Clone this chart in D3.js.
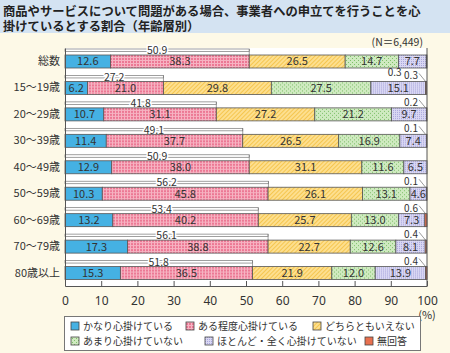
<!DOCTYPE html>
<html>
<head>
<meta charset="utf-8">
<script src="https://cdn.jsdelivr.net/npm/d3@7"></script>
<style>
  body { margin: 0; background: #fdf9e7; }
  svg { display: block; font-family: "Noto Sans CJK JP", "Noto Sans", sans-serif; }
</style>
</head>
<body>
<div id="chart-area"></div>
<script>
const categories = ['総数', '15～19歳', '20～29歳', '30～39歳', '40～49歳', '50～59歳', '60～69歳', '70～79歳', '80歳以上'];
const seriesNames = ['かなり心掛けている', 'ある程度心掛けている', 'どちらともいえない', 'あまり心掛けていない', 'ほとんど・全く心掛けていない', '無回答'];
const s1 = [12.6, 6.2, 10.7, 11.4, 12.9, 10.3, 13.2, 17.3, 15.3];
const s2 = [38.3, 21.0, 31.1, 37.7, 38.0, 45.8, 40.2, 38.8, 36.5];
const s3 = [26.5, 29.8, 27.2, 26.5, 31.1, 26.1, 25.7, 22.7, 21.9];
const s4 = [14.7, 27.5, 21.2, 16.9, 11.6, 13.1, 13.0, 12.6, 12.0];
const s5 = [7.7, 15.1, 9.7, 7.4, 6.5, 4.6, 7.3, 8.1, 13.9];
const s6 = [0.3, 0.3, 0.2, 0.1, 0, 0.1, 0.6, 0.4, 0.4];
const sums = [50.9, 27.2, 41.8, 49.1, 50.9, 56.2, 53.4, 56.1, 51.8];
const xTicks = [0, 10, 20, 30, 40, 50, 60, 70, 80, 90, 100];

const W = 450, H = 353;
const margin = {left: 65, right: 23, top: 48, bottom: 67};
const width = W - margin.left - margin.right;
const height = H - margin.top - margin.bottom;

const svg = d3.select('#chart-area')
  .append('svg')
  .attr('width', W)
  .attr('height', H);

// patterns
const defs = svg.append('defs');

const pPink = defs.append('pattern').attr('id', 'p-pink')
  .attr('patternUnits', 'userSpaceOnUse').attr('width', 3).attr('height', 3);
pPink.append('rect').attr('width', 3).attr('height', 3).attr('fill', '#f6b3c2');
pPink.append('rect').attr('width', 2).attr('height', 2).attr('fill', '#ec7894');

const pYellow = defs.append('pattern').attr('id', 'p-yellow')
  .attr('patternUnits', 'userSpaceOnUse').attr('width', 3).attr('height', 3)
  .attr('patternTransform', 'rotate(45)');
pYellow.append('rect').attr('width', 3).attr('height', 3).attr('fill', '#fddf8f');
pYellow.append('rect').attr('width', 1).attr('height', 3).attr('fill', '#f5c650');

const pGreen = defs.append('pattern').attr('id', 'p-green')
  .attr('patternUnits', 'userSpaceOnUse').attr('width', 4).attr('height', 4);
pGreen.append('rect').attr('width', 4).attr('height', 4).attr('fill', '#cfeac0');
pGreen.append('rect').attr('x', 1).attr('y', 1).attr('width', 1).attr('height', 1).attr('fill', '#7fc06a');
pGreen.append('rect').attr('x', 3).attr('y', 3).attr('width', 1).attr('height', 1).attr('fill', '#7fc06a');

const pLav = defs.append('pattern').attr('id', 'p-lav')
  .attr('patternUnits', 'userSpaceOnUse').attr('width', 2).attr('height', 2);
pLav.append('rect').attr('width', 2).attr('height', 2).attr('fill', '#d9d7f3');
pLav.append('rect').attr('width', 1).attr('height', 1).attr('fill', '#a9a6dc');

const fills = ['#45b1e3', 'url(#p-pink)', 'url(#p-yellow)', 'url(#p-green)', 'url(#p-lav)', '#e8704f'];

// title band
svg.append('rect')
  .attr('width', W).attr('height', 33)
  .attr('fill', '#d4e3f2');

svg.append('text')
  .attr('x', 3).attr('y', 16)
  .attr('font-size', '12.3px')
  .attr('font-weight', 'bold')
  .attr('fill', '#222')
  .text('商品やサービスについて問題がある場合、事業者への申立てを行うことを心');

svg.append('text')
  .attr('x', 3).attr('y', 31)
  .attr('font-size', '12.3px')
  .attr('font-weight', 'bold')
  .attr('fill', '#222')
  .text('掛けているとする割合（年齢層別）');

svg.append('text')
  .attr('x', 423).attr('y', 46)
  .attr('font-size', '10.5px')
  .attr('text-anchor', 'end')
  .attr('fill', '#333')
  .text('(N＝6,449)');

const g = svg.append('g')
  .attr('transform', `translate(${margin.left}, ${margin.top})`);

// scales
const x = d3.scaleLinear()
  .domain([0, 100])
  .range([0, width]);

const y = d3.scaleBand()
  .domain(categories)
  .range([0, height]);

const barH = 13;
const barOff = 7;

g.append('rect')
  .attr('width', width).attr('height', height)
  .attr('fill', '#fff');

// stacked data
const rows = categories.map((c, i) => {
  const vals = [s1[i], s2[i], s3[i], s4[i], s5[i], s6[i]];
  let acc = 0;
  const segs = vals.map((v, k) => {
    const x0 = Math.min(acc, 100);
    acc += v;
    return {cat: c, k: k, v: v, x0: x0, x1: Math.min(acc, 100)};
  });
  return {cat: c, i: i, segs: segs, sum: sums[i]};
});

// bracket for 心掛けている total
rows.forEach(r => {
  const top = y(r.cat) + barOff;
  const gb = g.append('g');
  gb.append('rect')
    .attr('x', 0).attr('y', top - 6)
    .attr('width', x(r.sum)).attr('height', 2.5)
    .attr('fill', '#fff')
    .attr('stroke', '#777')
    .attr('stroke-width', 0.7);
  gb.append('line')
    .attr('x1', x(r.sum)).attr('x2', x(r.sum))
    .attr('y1', top - 6).attr('y2', top)
    .attr('stroke', '#777')
    .attr('stroke-width', 0.7);
  gb.append('text')
    .attr('x', x(r.sum / 2)).attr('y', top - 4.5)
    .attr('dy', '0.35em')
    .attr('font-size', '10.5px')
    .attr('text-anchor', 'middle')
    .attr('fill', '#333')
    .attr('stroke', '#fff')
    .attr('stroke-width', 3)
    .attr('paint-order', 'stroke')
    .text(r.sum.toFixed(1));
});

// bars
const rowG = g.selectAll('.row')
  .data(rows)
  .enter()
  .append('g')
  .attr('class', 'row')
  .attr('transform', d => `translate(0, ${y(d.cat) + barOff})`);

rowG.selectAll('rect')
  .data(d => d.segs.filter(s => s.v > 0))
  .enter()
  .append('rect')
  .attr('x', d => x(d.x0))
  .attr('width', d => x(d.x1) - x(d.x0))
  .attr('height', barH)
  .attr('fill', d => fills[d.k])
  .attr('stroke', '#555')
  .attr('stroke-width', 0.8);

rowG.selectAll('.seg-label')
  .data(d => d.segs.filter(s => s.k < 5))
  .enter()
  .append('text')
  .attr('class', 'seg-label')
  .attr('x', d => x((d.x0 + d.x1) / 2))
  .attr('y', barH / 2)
  .attr('dy', '0.36em')
  .attr('font-size', '11px')
  .attr('text-anchor', 'middle')
  .attr('fill', '#333')
  .text(d => d.v.toFixed(1));

// 無回答 labels
rows.forEach(r => {
  const v = s6[r.i];
  if (!v) return;
  if (r.i === 0) {
    g.append('text')
      .attr('x', x(93)).attr('y', y(categories[1]) + 1.5)
      .attr('font-size', '10px')
      .attr('text-anchor', 'end')
      .attr('fill', '#333')
      .text(v.toFixed(1));
    return;
  }
  const top = y(r.cat) + barOff;
  g.append('text')
    .attr('x', x(97.5)).attr('y', top - 2)
    .attr('font-size', '10px')
    .attr('text-anchor', 'end')
    .attr('fill', '#333')
    .text(v.toFixed(1));
  g.append('line')
    .attr('x1', x(97.8)).attr('x2', x(99.6))
    .attr('y1', top - 8).attr('y2', top)
    .attr('stroke', '#555')
    .attr('stroke-width', 0.6);
});

// borders
g.append('line')
  .attr('x1', width).attr('x2', width)
  .attr('y1', 0).attr('y2', height)
  .attr('stroke', '#555');

// axes
const xAxis = d3.axisBottom(x)
  .tickValues(xTicks)
  .tickSizeInner(-5)
  .tickSizeOuter(0)
  .tickPadding(10);

const xg = g.append('g')
  .attr('transform', `translate(0, ${height})`)
  .call(xAxis);
xg.select('.domain').attr('stroke', '#555');
xg.selectAll('.tick line').attr('stroke', '#555');
xg.selectAll('.tick text')
  .attr('font-size', '12px')
  .attr('fill', '#333')
  .attr('font-family', '"Noto Sans", sans-serif');

g.append('text')
  .attr('x', width).attr('y', height + 33)
  .attr('font-size', '11px')
  .attr('text-anchor', 'middle')
  .attr('fill', '#333')
  .text('(%)');

const yAxis = d3.axisLeft(y)
  .tickSize(0)
  .tickPadding(5);

const yg = g.append('g').call(yAxis);
yg.select('.domain').attr('stroke', '#555');
yg.selectAll('.tick text')
  .attr('y', barOff + barH / 2 - y.bandwidth() / 2)
  .attr('font-size', '11px')
  .attr('fill', '#333')
  .attr('font-family', '"Noto Sans CJK JP", sans-serif');

// legend
const legend = svg.append('g');
legend.append('rect')
  .attr('x', 64.5).attr('y', 316.5)
  .attr('width', 356).attr('height', 34)
  .attr('fill', '#fff')
  .attr('stroke', '#777');

const legPos = [[71, 326], [186, 326], [313, 326], [71, 341], [205, 341], [365, 341]];
seriesNames.forEach((name, k) => {
  const row = legend.append('g')
    .attr('transform', `translate(${legPos[k][0]}, ${legPos[k][1]})`);
  row.append('rect')
    .attr('x', 0).attr('y', -4)
    .attr('width', 8).attr('height', 8)
    .attr('fill', fills[k])
    .attr('stroke', '#444')
    .attr('stroke-width', 0.8);
  row.append('text')
    .attr('x', 12).attr('y', 0)
    .attr('dy', '0.35em')
    .attr('font-size', '10px')
    .attr('fill', '#333')
    .text(name);
});
</script>
</body>
</html>
